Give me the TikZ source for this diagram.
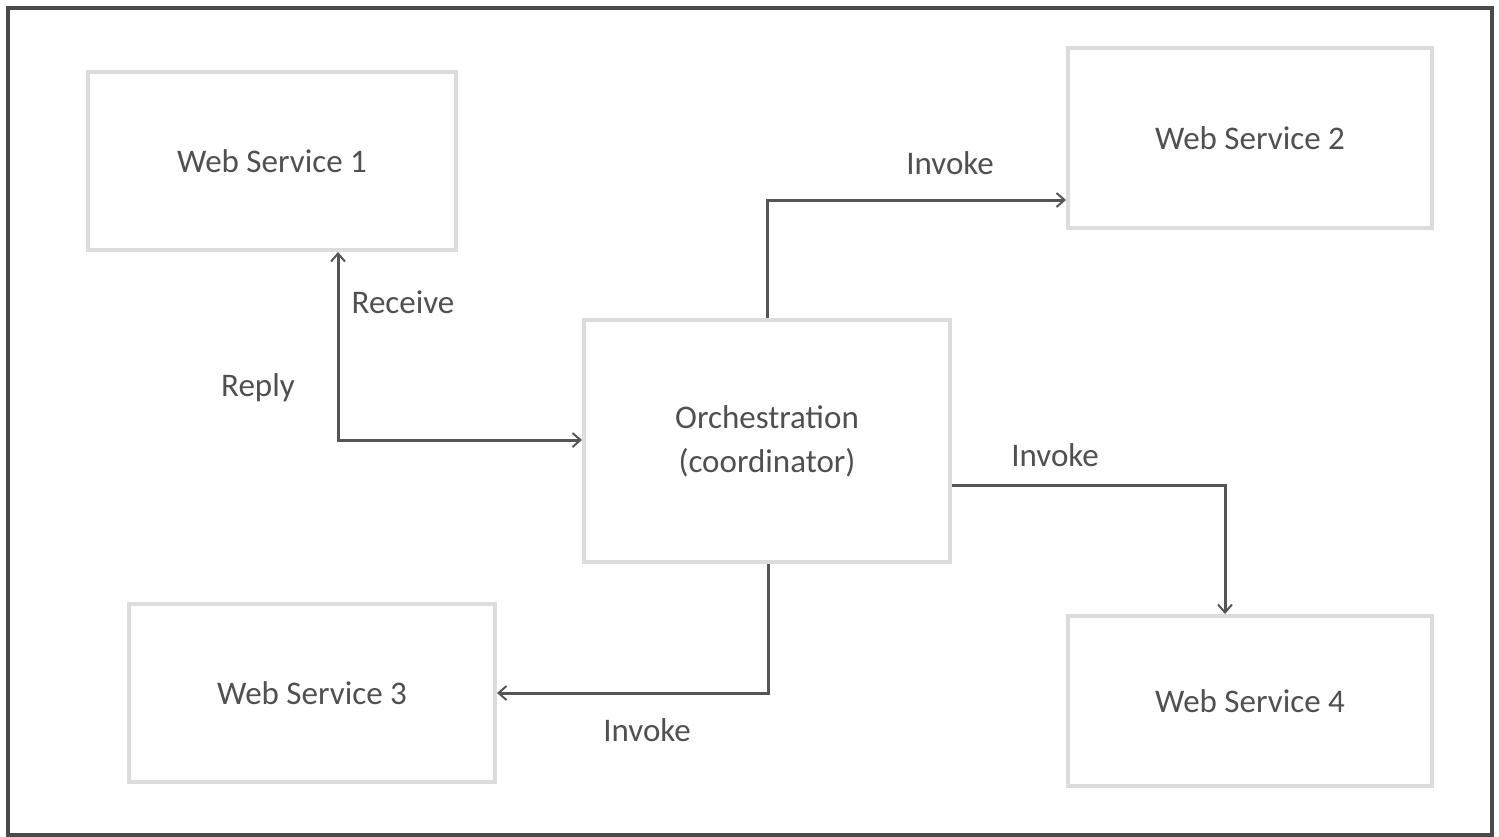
\documentclass[tikz,border=0pt]{standalone}
\usepackage{fontspec}
\setmainfont{Carlito}
\usetikzlibrary{arrows.meta}
\definecolor{boxline}{HTML}{DCDCDC}
\definecolor{conn}{HTML}{555555}
\definecolor{txt}{HTML}{505050}
\definecolor{frame}{HTML}{4A4A4A}
\tikzset{
  svcbox/.style={draw=boxline, line width=2pt, fill=white, inner sep=0pt, font=\fontsize{16.5}{19}\selectfont, text=txt, align=center},
  conline/.style={draw=conn, line width=1.5pt, -{Straight Barb[length=4pt,width=7pt,line width=1pt]}},
  lbl/.style={font=\fontsize{16.5}{19}\selectfont, text=txt, inner sep=0pt}
}
\begin{document}
\begin{tikzpicture}[x=0.5pt,y=-0.5pt]
\useasboundingbox (0,0) rectangle (1499,836);
\fill[white] (0,0) rectangle (1499,836);
\draw[frame, line width=2pt] (8,8) rectangle (1492,835);

\node[svcbox, minimum width=184pt, minimum height=89pt] (ws1) at (272,161) {Web Service 1};
\node[svcbox, minimum width=182pt, minimum height=90pt] (ws2) at (1250,138) {Web Service 2};
\node[svcbox, minimum width=183pt, minimum height=121pt] (orch) at (767,441) {Orchestration\\[3pt](coordinator)};
\node[svcbox, minimum width=183pt, minimum height=89pt] (ws3) at (312,693) {Web Service 3};
\node[svcbox, minimum width=182pt, minimum height=85pt] (ws4) at (1250,701) {Web Service 4};

\coordinate (c1) at (338,440);
\coordinate (c2) at (767,200);
\coordinate (c3) at (1225,485);
\coordinate (c4) at (768,693);

\draw[conline, {Straight Barb[length=4pt,width=7pt,line width=1pt]}-{Straight Barb[length=4pt,width=7pt,line width=1pt]}]
  (ws1.south -| c1) -- (c1) -- (c1 -| orch.west);
\draw[conline] (orch.north -| c2) -- (c2) -- (c2 -| ws2.west);
\draw[conline] (orch.east |- c3) -- (c3) -- (c3 |- ws4.north);
\draw[conline] (orch.south -| c4) -- (c4) -- (c4 -| ws3.east);

\node[lbl] (lrec) at (403,302) {Receive};
\node[lbl] (lrep) at (258,388) {Reply};
\node[lbl] (li2) at (950,163) {Invoke};
\node[lbl] (li4) at (1055,455) {Invoke};
\node[lbl] (li3) at (647,730) {Invoke};
\end{tikzpicture}
\end{document}
